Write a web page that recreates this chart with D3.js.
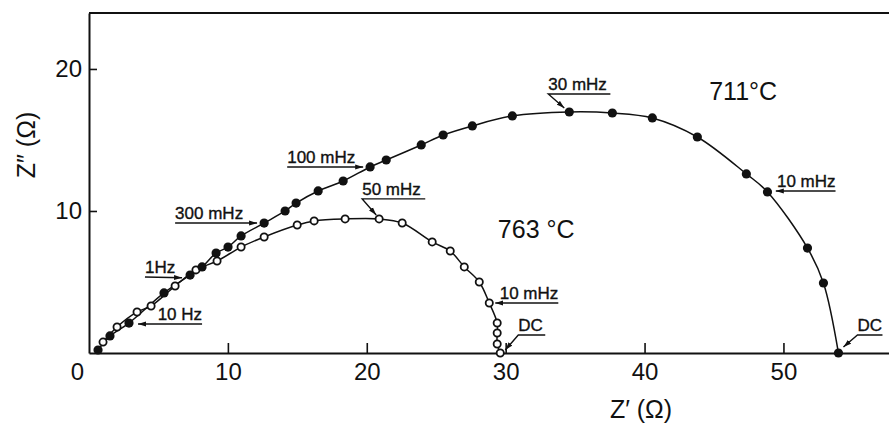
<!DOCTYPE html>
<html>
<head>
<meta charset="utf-8">
<script src="https://cdn.jsdelivr.net/npm/d3@7"></script>
<style>
  body { margin: 0; background: #fff; }
  svg { display: block; }
  text { font-family: "Liberation Sans", Arial, sans-serif; fill: #111; }
</style>
</head>
<body>
<svg id="chart" width="889" height="424"></svg>
<script>
// impedance spectra (ohm)
// 711 C - filled dots
var z1Re = [0.65, 1.51, 2.88, 5.40, 7.28, 8.14, 9.15, 10.01, 10.95, 12.61, 14.12, 14.91, 16.5, 18.3,
            20.24, 21.4, 23.92, 25.5, 27.6, 30.48, 34.58, 37.68, 40.56, 43.8, 47.33, 48.85, 51.73, 52.88, 53.96];
var z1Im = [0.21, 1.20, 2.11, 4.23, 5.49, 6.06, 7.04, 7.46, 8.24, 9.15, 10.0, 10.56, 11.41, 12.11,
            13.10, 13.59, 14.65, 15.35, 15.99, 16.69, 16.97, 16.9, 16.55, 15.21, 12.61, 11.34, 7.39, 4.93, 0];
// 763 C - open dots
var z2Re = [1.01, 2.02, 3.46, 4.47, 6.20, 7.7, 9.22, 10.95, 12.61, 14.99, 16.21, 18.44, 20.89, 22.55,
            24.71, 26.01, 27.02, 28.10, 28.82, 29.39, 29.39, 29.39, 29.61];
var z2Im = [0.77, 1.83, 2.89, 3.31, 4.72, 5.85, 6.48, 7.46, 8.17, 9.01, 9.30, 9.44, 9.44, 9.15,
            7.82, 7.18, 6.06, 5.00, 3.52, 2.11, 1.41, 0.63, 0];

var xTicks = [0, 10, 20, 30, 40, 50];
var yTicks = [10, 20];
var tempLabels = ["711\u00b0C", "763 \u00b0C"];
var freqLabels = ["30 mHz", "10 mHz", "DC", "DC", "10 mHz", "50 mHz", "100 mHz", "300 mHz", "1Hz", "10 Hz"];

// where each frequency label sits (data units): text anchor + arrow polyline ending at the tip
var freqLayout = [
  {x: 33.07, y: 18.24, anchor: "start", path: [[37.54, 18.24], [33.07, 18.24], [34.22, 17.25]]},
  {x: 53.75, y: 11.41, anchor: "end",   path: [[53.75, 11.41], [49.45, 11.41]]},
  {x: 55.33, y: 1.27,  anchor: "start", path: [[57.13, 1.27], [55.33, 1.27], [54.32, 0.42]]},
  {x: 30.91, y: 1.27,  anchor: "start", path: [[32.85, 1.27], [30.91, 1.27], [29.97, 0.21]]},
  {x: 33.79, y: 3.52,  anchor: "end",   path: [[33.79, 3.52], [29.25, 3.52]]},
  {x: 19.67, y: 10.85, anchor: "start", path: [[24.21, 10.85], [19.67, 10.85], [20.68, 9.72]]},
  {x: 14.27, y: 13.1,  anchor: "start", path: [[14.27, 13.1], [19.74, 13.1]]},
  {x: 6.2,   y: 9.15,  anchor: "start", path: [[6.2, 9.15], [12.1, 9.15]]},
  {x: 4.03,  y: 5.35,  anchor: "start", path: [[4.03, 5.35], [6.7, 5.3]]},
  {x: 8.14,  y: 2.04,  anchor: "end",   path: [[8.14, 2.04], [3.53, 2.04]]}
];

var svg = d3.select("#chart");

var x = d3.scaleLinear().domain([0, 57.6]).range([89, 889]);
var y = d3.scaleLinear().domain([0, 23.94]).range([353, 13]);

svg.append("defs").append("marker")
    .attr("id", "arr")
    .attr("markerUnits", "userSpaceOnUse")
    .attr("markerWidth", 9).attr("markerHeight", 6)
    .attr("refX", 8).attr("refY", 3)
    .attr("orient", "auto")
  .append("path")
    .attr("d", "M0,0.5 L8,3 L0,5.5 Z")
    .attr("fill", "#111");

// frame: top rule, left and bottom axes
svg.append("line")
    .attr("x1", x(0)).attr("x2", 889)
    .attr("y1", y(23.94)).attr("y2", y(23.94))
    .attr("stroke", "#111").attr("stroke-width", 2);

var xAxis = svg.append("g")
    .attr("transform", "translate(0," + y(0) + ")")
    .call(d3.axisBottom(x).tickValues(xTicks).tickSizeInner(-10).tickSizeOuter(0).tickPadding(10));
var yAxis = svg.append("g")
    .attr("transform", "translate(" + x(0) + ",0)")
    .call(d3.axisLeft(y).tickValues(yTicks).tickSizeInner(-8).tickSizeOuter(0).tickPadding(7));

[xAxis, yAxis].forEach(function(g) {
  g.select(".domain").attr("stroke", "#111").attr("stroke-width", 2);
  g.selectAll(".tick line").attr("stroke", "#111").attr("stroke-width", 1.6);
  g.selectAll(".tick text")
      .attr("font-size", 24)
      .attr("font-family", "Liberation Sans, Arial, sans-serif")
      .attr("fill", "#111");
});
xAxis.selectAll(".tick").filter(function(d) { return d === 0; })
    .select("line").remove();
xAxis.selectAll(".tick").filter(function(d) { return d === 0; })
    .select("text").attr("dx", -12);

// axis titles
svg.append("text")
    .attr("x", 641).attr("y", 418)
    .attr("text-anchor", "middle")
    .attr("font-size", 25)
    .text("Z\u2032 (\u03a9)");
svg.append("text")
    .attr("transform", "translate(35,145) rotate(-90)")
    .attr("text-anchor", "middle")
    .attr("font-size", 25)
    .text("Z\u2033 (\u03a9)");

// fitted arcs
var line = d3.line()
    .x(function(d) { return x(d[0]); })
    .y(function(d) { return y(d[1]); })
    .curve(d3.curveCatmullRom.alpha(0.5));

var pts1 = z1Re.map(function(v, i) { return [v, z1Im[i]]; });
var pts2 = z2Re.map(function(v, i) { return [v, z2Im[i]]; });

svg.append("path").datum(pts2).attr("d", line)
    .attr("fill", "none").attr("stroke", "#111").attr("stroke-width", 1.5);
svg.append("path").datum(pts1).attr("d", line)
    .attr("fill", "none").attr("stroke", "#111").attr("stroke-width", 1.5);

svg.append("g").selectAll("circle").data(pts2).join("circle")
    .attr("cx", function(d) { return x(d[0]); })
    .attr("cy", function(d) { return y(d[1]); })
    .attr("r", 3.6)
    .attr("fill", "#fff").attr("stroke", "#111").attr("stroke-width", 1.8);

svg.append("g").selectAll("circle").data(pts1).join("circle")
    .attr("cx", function(d) { return x(d[0]); })
    .attr("cy", function(d) { return y(d[1]); })
    .attr("r", 4.6)
    .attr("fill", "#111");

// frequency labels with arrows
var ann = svg.append("g");
freqLabels.forEach(function(t, i) {
  var L = freqLayout[i];
  ann.append("path")
      .attr("d", d3.line().x(function(p) { return x(p[0]); }).y(function(p) { return y(p[1]); })(L.path))
      .attr("fill", "none").attr("stroke", "#111").attr("stroke-width", 1.4)
      .attr("marker-end", "url(#arr)");
  ann.append("text")
      .attr("x", x(L.x)).attr("y", y(L.y) - 4)
      .attr("text-anchor", L.anchor)
      .attr("font-size", 17)
      .attr("stroke", "#111").attr("stroke-width", 0.35)
      .text(t);
});

// temperatures
svg.append("text").attr("x", x(47.1)).attr("y", y(17.8))
    .attr("text-anchor", "middle").attr("font-size", 25).text(tempLabels[0]);
svg.append("text").attr("x", x(32.2)).attr("y", y(8.1))
    .attr("text-anchor", "middle").attr("font-size", 25).text(tempLabels[1]);
</script>
</body>
</html>
